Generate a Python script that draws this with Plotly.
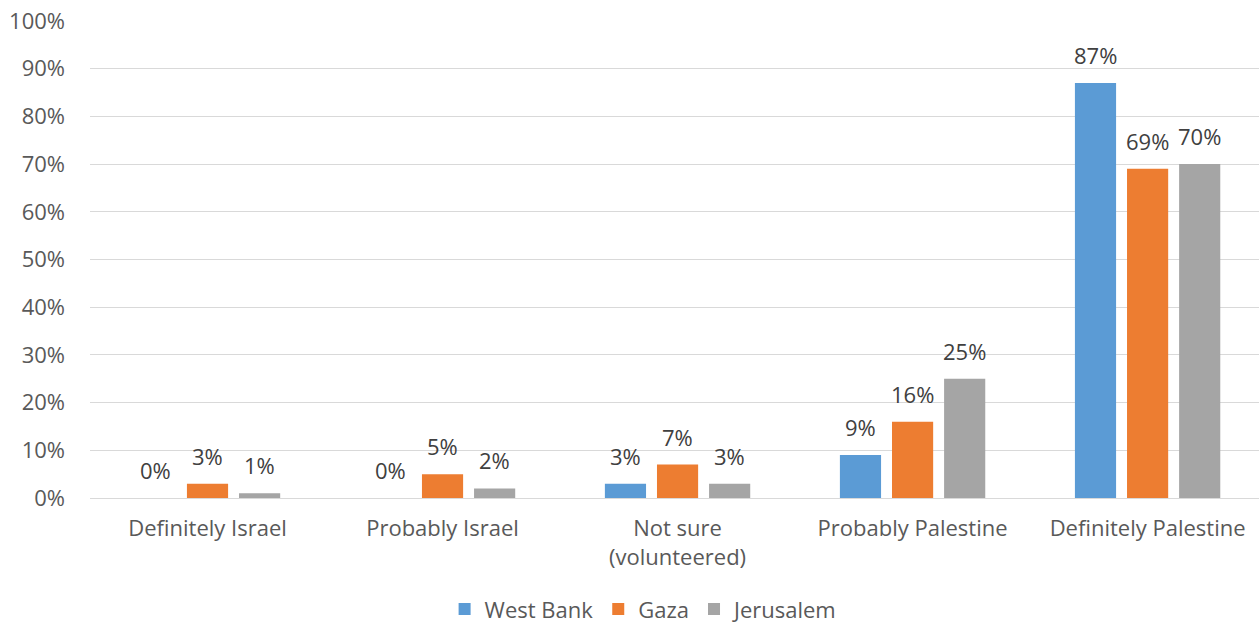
import plotly.graph_objects as go

categories = ["Definitely Israel", "Probably Israel", "Not sure<br>(volunteered)",
              "Probably Palestine", "Definitely Palestine"]
west_bank = [0, 0, 3, 9, 87]
gaza = [3, 5, 7, 16, 69]
jerusalem = [1, 2, 3, 25, 70]
series = [("West Bank", west_bank, "#5b9bd5"),
          ("Gaza", gaza, "#ed7d31"),
          ("Jerusalem", jerusalem, "#a5a5a5")]
tick_vals = list(range(0, 101, 10))
tick_text = [f"{v}%" for v in tick_vals]

font_family = "'Open Sans', sans-serif"
W, H = 1259, 623
ML, MR, MT, MB = 90, 0, 21, 125
X_RANGE = [-0.5, 4.474]
BARGAP, BARGROUPGAP = 0.335, 0.21

fig = go.Figure()
for name, vals, color in series:
    fig.add_trace(go.Bar(
        name=name, x=categories, y=vals,
        marker=dict(color=color, line=dict(width=0)),
        hoverinfo="x+y+name",
    ))

# data labels above each bar
cat_px = (W - ML - MR) / (X_RANGE[1] - X_RANGE[0])
pitch = cat_px * (1 - BARGAP) / len(series)
annotations = []
for i, (name, vals, color) in enumerate(series):
    for cat, v in zip(categories, vals):
        annotations.append(dict(
            x=cat, y=v, xref="x", yref="y", text=f"{v}%", showarrow=False,
            xanchor="center", yanchor="bottom", yshift=11,
            xshift=(i - (len(series) - 1) / 2) * pitch,
            font=dict(size=22, color="#404040", family=font_family),
        ))

fig.update_layout(
    width=W, height=H,
    barmode="group", bargap=BARGAP, bargroupgap=BARGROUPGAP,
    plot_bgcolor="white", paper_bgcolor="white",
    margin=dict(l=ML, r=MR, t=MT, b=MB, autoexpand=False),
    font=dict(family=font_family, size=22, color="#595959"),
    legend=dict(orientation="h", x=0.474, xanchor="center", y=-0.233, yanchor="middle",
                font=dict(size=22, color="#595959"), itemwidth=30,
                traceorder="normal"),
    showlegend=True,
    annotations=annotations,
)
fig.update_yaxes(range=[0, 100], tickvals=tick_vals, ticktext=tick_text,
                 showgrid=True, gridcolor="#d9d9d9", gridwidth=1, automargin=False,
                 zeroline=False, ticklabelstandoff=24,
                 tickfont=dict(size=22, color="#595959"))
fig.update_xaxes(range=X_RANGE, showline=True, linecolor="#d9d9d9", linewidth=1,
                 automargin=False,
                 tickfont=dict(size=22, color="#595959"), ticks="", ticklabelstandoff=11)

fig.write_html("out.html", config={"displayModeBar": False},
               post_script="document.body.style.margin='0';document.body.style.overflow='hidden';")
